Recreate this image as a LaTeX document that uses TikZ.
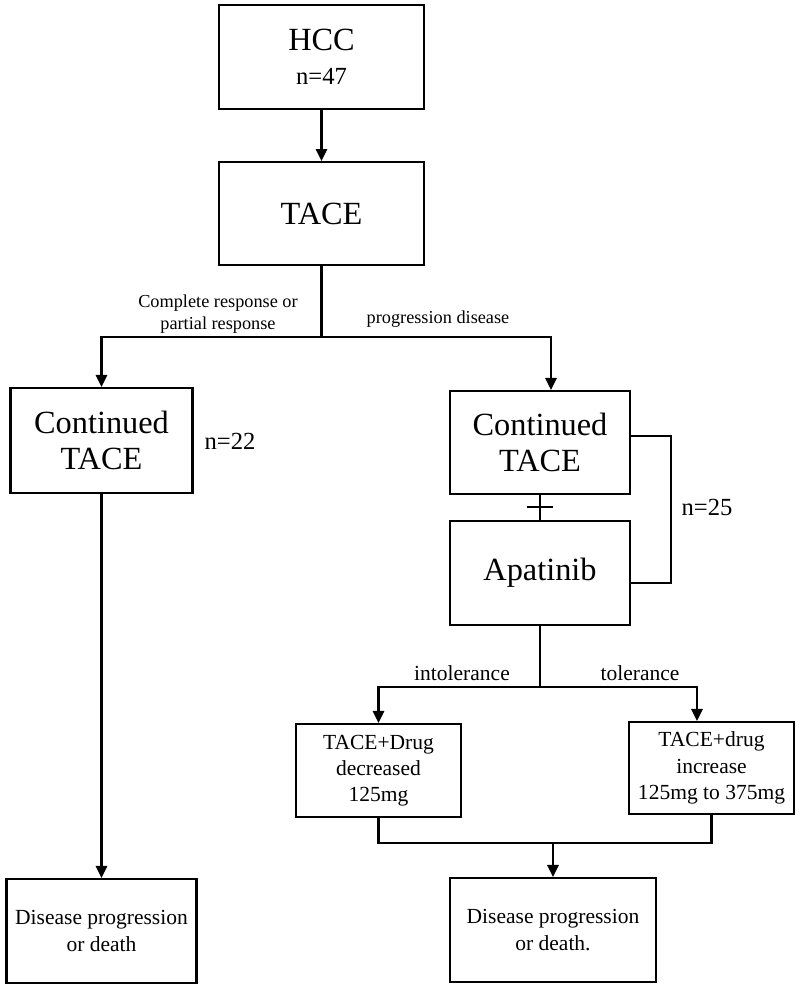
\documentclass[tikz,border=0pt]{standalone}
\usepackage{fontspec}
\setmainfont{Liberation Serif}
\usetikzlibrary{positioning,arrows.meta}

\begin{document}
\begin{tikzpicture}[x=0.025cm,y=-0.025cm,->,>={Triangle[length=8.5pt,width=8pt]},
                    line width=1.5pt,
  box/.style={draw,rectangle,align=center,inner sep=2pt},
  bigbox/.style={box,font=\fontsize{23}{26}\selectfont},
  smallbox/.style={box,font=\fontsize{15.3}{18.6}\selectfont},
  count/.style={font=\fontsize{17.5}{20}\selectfont},
  branch/.style={font=\fontsize{15.3}{18}\selectfont},
  note/.style={font=\fontsize{13}{15.6}\selectfont,align=center}]

  \useasboundingbox (0,0) rectangle (800,988);

  \node[bigbox,minimum width=5.125cm,minimum height=2.6cm] (hcc) at (321.5,57)
        {HCC\\[-2pt]{\fontsize{17.5}{20}\selectfont n=47}};
  \node[bigbox,minimum width=5.125cm,minimum height=2.575cm] (tace) [below=1.275cm of hcc] {TACE};

  \node[bigbox,minimum width=4.55cm,minimum height=2.625cm] (contA) at (101.5,440.5) {Continued\\TACE};
  \node[bigbox,minimum width=4.5cm,minimum height=2.575cm] (contB) at (540,442.5) {Continued\\TACE};
  \node[bigbox,minimum width=4.5cm,minimum height=2.6cm] (apat) [below=0.625cm of contB] {Apatinib};

  \node[smallbox,minimum width=4.125cm,minimum height=2.325cm] (dec) at (378.5,770.5)
        {TACE+Drug\\decreased\\125mg};
  \node[smallbox,minimum width=4.125cm,minimum height=2.3cm] (inc) at (711.5,768)
        {TACE+drug\\increase\\125mg to 375mg};

  \node[smallbox,minimum width=4.75cm,minimum height=2.6cm] (endA) at (101.5,931)
        {Disease progression\\or death};
  \node[smallbox,minimum width=5.15cm,minimum height=2.6cm] (endB) at (553,930)
        {Disease progression\\or death.};

  \node[count] (n22) at (230,441) {n=22};
  \node[count] (n25) at (707,507) {n=25};

  \node[note] (crpr) at (218,314) {Complete response or\\partial response};
  \node[note] (pd) at (438,319) {progression disease};
  \node[branch] (intol) at (462,673) {intolerance};
  \node[branch] (tol) at (640,673) {tolerance};

  \coordinate (split) at (321.5,337);
  \coordinate (plus) at (540,507);
  \coordinate (fork) at (540,687);
  \coordinate (join) at (553,843);

  \draw (hcc) -- (tace);
  \draw[-] (tace) -- (split);
  \draw (split) -| (contA);
  \draw (split) -| ([xshift=0.275cm]contB.north);

  \draw (contA) -- (endA);

  \draw[-] (contB) -- (apat);
  \draw[-] ([xshift=-0.33cm]plus) -- ([xshift=0.33cm]plus);
  \draw[-] ([yshift=0.16cm]contB.east) -- ++(40,0) |- ([yshift=-0.25cm]apat.east);

  \draw[-] (apat) -- (fork);
  \draw (fork) -| (dec);
  \draw (fork) -| ([xshift=-0.3625cm]inc.north);

  \draw[-] (dec) |- (join);
  \draw[-] (inc) |- (join);
  \draw (join) -- (endB);
\end{tikzpicture}
\end{document}
